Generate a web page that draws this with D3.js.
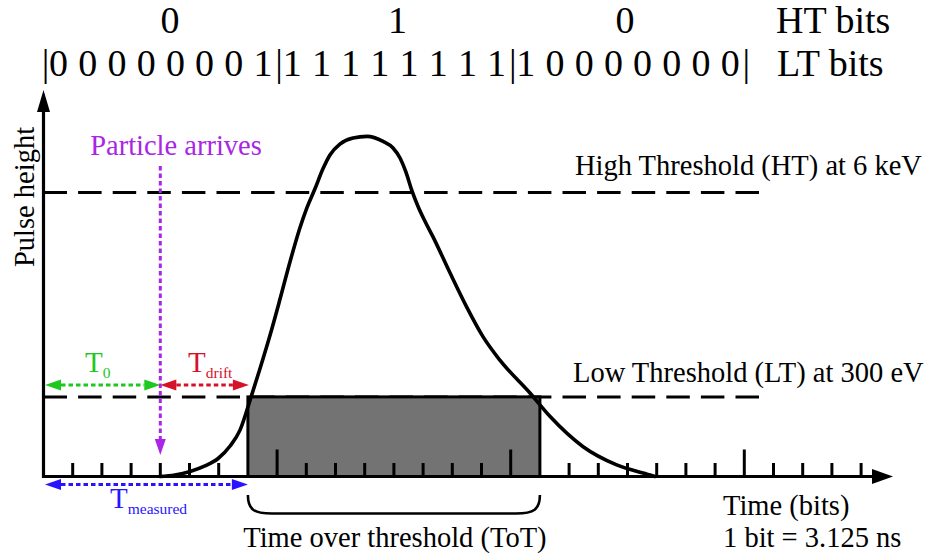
<!DOCTYPE html>
<html>
<head>
<meta charset="utf-8">
<script src="https://cdn.jsdelivr.net/npm/d3@7"></script>
<style>
  html, body { margin: 0; padding: 0; background: #fff; }
  svg { display: block; }
  text { font-family: "Liberation Serif", "Times New Roman", serif; fill: #000; }
</style>
</head>
<body>
<svg id="chart" width="935" height="559"></svg>
<script>
// Pulse shape: time in bits, height in relative units (0-100)
const pulseTime   = [3.99, 4.50, 5.02, 5.53, 5.98, 6.39, 6.73, 7.11, 7.41, 7.76, 8.10, 8.44, 8.78, 9.02, 9.30, 9.57, 9.81, 10.15, 10.60, 11.08, 11.63, 11.97, 12.21, 12.41, 12.61, 12.82, 13.06, 13.34, 13.92, 14.49, 15.05, 15.63, 16.66, 17.35, 18.48, 19.63, 20.77, 20.94];
const pulseHeight = [0.0, 0.39, 1.29, 2.72, 4.66, 7.89, 12.0, 20.6, 27.8, 36.6, 45.9, 55.5, 64.3, 69.5, 74.5, 79.6, 83.2, 86.0, 87.6, 88.0, 86.7, 85.0, 82.4, 78.8, 74.1, 70.0, 66.1, 62.0, 52.7, 43.9, 36.2, 30.1, 21.6, 15.5, 7.7, 3.0, 0.4, 0.0];

// Thresholds
const thresholdNames  = ["High Threshold (HT) at 6 keV", "Low Threshold (LT) at 300 eV"];
const thresholdLevels = [73.5, 20.6];

// Bit patterns read out per 25 ns window
const ltBits = [0,0,0,0,0,0,0,1, 1,1,1,1,1,1,1,1, 1,0,0,0,0,0,0,0];
const htBits = [0, 1, 0];
const windowEdges = [0, 8, 16, 24];

// Time axis ticks (bits)
const tickBits = d3.range(1, 29);
const longTicks = [8, 16, 24];

// Key times (bits)
const arrivalBit = 4;
const totStart = 7;
const totEnd = 17;

const svg = d3.select("#chart");

const x = d3.scaleLinear().domain([0, 29]).range([43.5, 43.5 + 29 * 29.2]);
const y = d3.scaleLinear().domain([0, 100]).range([476.5, 90]);
const htX = d3.scalePoint().domain(d3.range(htBits.length)).range([170, 625]);

const x0 = x(0), yBase = y(0);

// Threshold dashed lines
svg.append("g").selectAll("line").data(thresholdLevels).join("line")
  .attr("x1", x0).attr("x2", 760)
  .attr("y1", d => y(d)).attr("y2", d => y(d))
  .attr("stroke", "#000").attr("stroke-width", 3)
  .attr("stroke-dasharray", "23.5 11.1");

svg.append("g").selectAll("text").data(thresholdNames).join("text")
  .attr("x", (d, i) => i === 0 ? 575 : 573)
  .attr("y", (d, i) => y(thresholdLevels[i]) - (i === 0 ? 17.5 : 15))
  .attr("font-size", 28.5)
  .text(d => d);

// Time over threshold box
svg.append("rect")
  .attr("x", x(totStart)).attr("y", y(thresholdLevels[1]))
  .attr("width", x(totEnd) - x(totStart))
  .attr("height", yBase - y(thresholdLevels[1]))
  .attr("fill", "#737373").attr("stroke", "#000").attr("stroke-width", 3);

// Ticks
svg.append("g").selectAll("line").data(tickBits.filter(b => b !== totStart && b !== totEnd)).join("line")
  .attr("x1", d => x(d)).attr("x2", d => x(d))
  .attr("y1", yBase).attr("y2", d => yBase - (longTicks.includes(d) ? 27 : 13.5))
  .attr("stroke", "#000").attr("stroke-width", 3);

// Axes with arrow heads
svg.append("line").attr("x1", x0).attr("x2", 875).attr("y1", yBase).attr("y2", yBase)
  .attr("stroke", "#000").attr("stroke-width", 3.2);
svg.append("path").attr("d", `M893,${yBase} L872,${yBase - 7.5} L872,${yBase + 7.5} Z`).attr("fill", "#000");
svg.append("line").attr("x1", x0).attr("x2", x0).attr("y1", yBase + 1.6).attr("y2", 108)
  .attr("stroke", "#000").attr("stroke-width", 3.2);
svg.append("path").attr("d", `M${x0},90 L${x0 - 6.5},112 L${x0 + 6.5},112 Z`).attr("fill", "#000");

// Pulse
const line = d3.line().x((d, i) => x(pulseTime[i])).y((d, i) => y(pulseHeight[i]))
  .curve(d3.curveMonotoneX);
svg.append("path").attr("d", line(pulseTime))
  .attr("fill", "none").attr("stroke", "#000").attr("stroke-width", 3.6)
  .attr("stroke-linejoin", "round").attr("stroke-linecap", "round");

// Axis titles
svg.append("text").attr("transform", `translate(34,197) rotate(-90)`)
  .attr("text-anchor", "middle").attr("font-size", 28.5).text("Pulse height");
svg.append("text").attr("x", 723).attr("y", 515).attr("font-size", 28.5).text("Time (bits)");
svg.append("text").attr("x", 723).attr("y", 547).attr("font-size", 28.5).text("1 bit = 3.125 ns");

// Bit rows
svg.append("g").selectAll("text").data(htBits).join("text")
  .attr("x", (d, i) => htX(i)).attr("y", 33).attr("text-anchor", "middle")
  .attr("font-size", 38).text(d => d);
svg.append("text").attr("x", 776).attr("y", 33).attr("font-size", 38).text("HT bits");

svg.append("g").selectAll("text").data(ltBits).join("text")
  .attr("x", (d, i) => x(i + 0.5) + 0.5).attr("y", 75.5).attr("text-anchor", "middle")
  .attr("font-size", 38).text(d => d);
svg.append("g").selectAll("text").data(windowEdges).join("text")
  .attr("x", d => x(d) + 2).attr("y", 75.5).attr("text-anchor", "middle")
  .attr("font-size", 38).text("|");
svg.append("text").attr("x", 777).attr("y", 76).attr("font-size", 38).text("LT bits");

// Dotted arrows with solid heads
function arrow(g, x1, y1, x2, y2, color, headStart, headEnd) {
  const len = Math.hypot(x2 - x1, y2 - y1);
  const ux = (x2 - x1) / len, uy = (y2 - y1) / len;
  const hl = 16, hw = 5.5;
  const sx = headStart ? x1 + ux * hl : x1, sy = headStart ? y1 + uy * hl : y1;
  const ex = headEnd ? x2 - ux * hl : x2, ey = headEnd ? y2 - uy * hl : y2;
  g.append("line").attr("x1", sx).attr("y1", sy).attr("x2", ex).attr("y2", ey)
    .attr("stroke", color).attr("stroke-width", 3).attr("stroke-dasharray", "4.5 3");
  const head = (tx, ty, dx, dy) => {
    const bx = tx - dx * hl, by = ty - dy * hl;
    g.append("path")
      .attr("d", `M${tx},${ty} L${bx - dy * hw},${by + dx * hw} L${bx + dy * hw},${by - dx * hw} Z`)
      .attr("fill", color);
  };
  if (headEnd) head(x2, y2, ux, uy);
  if (headStart) head(x1, y1, -ux, -uy);
}

const ann = svg.append("g");
const green = "#1ec81e", red = "#d5122a", blue = "#2a14ff", purple = "#a926e6";
const yArrow = 385;

arrow(ann, x0 + 1.5, yArrow, x(arrivalBit), yArrow, green, true, true);
arrow(ann, x(arrivalBit), yArrow, x(totStart) + 1, yArrow, red, true, true);
arrow(ann, x0 + 1.5, 484.5, x(totStart), 484.5, blue, true, true);
arrow(ann, x(arrivalBit), 166, x(arrivalBit), 455, purple, false, true);

// Subscripted labels
function tLabel(g, xPos, yPos, sub, color) {
  const t = g.append("text").attr("x", xPos).attr("y", yPos).attr("font-size", 29).style("fill", color);
  t.append("tspan").text("T");
  t.append("tspan").attr("dy", 6).attr("font-size", 15.5).text(sub);
}
tLabel(ann, 85, 372, "0", green);
tLabel(ann, 188, 372, "drift", red);
tLabel(ann, 110, 507.5, "measured", blue);

ann.append("text").attr("x", 176).attr("y", 155).attr("text-anchor", "middle")
  .attr("font-size", 28.5).style("fill", purple).text("Particle arrives");

// Brace under the time-over-threshold window
const bx1 = x(totStart), bx2 = x(totEnd), by1 = 495, by2 = 513.5, r = 20;
svg.append("path")
  .attr("d", `M${bx1},${by1} C${bx1},${by2 - 4} ${bx1 + 6},${by2} ${bx1 + r + 4},${by2} L${bx2 - r - 4},${by2} C${bx2 - 6},${by2} ${bx2},${by2 - 4} ${bx2},${by1}`)
  .attr("fill", "none").attr("stroke", "#000").attr("stroke-width", 2.6);
svg.append("text").attr("x", (bx1 + bx2) / 2 + 1).attr("y", 546.5).attr("text-anchor", "middle")
  .attr("font-size", 28.5).text("Time over threshold (ToT)");
</script>
</body>
</html>
